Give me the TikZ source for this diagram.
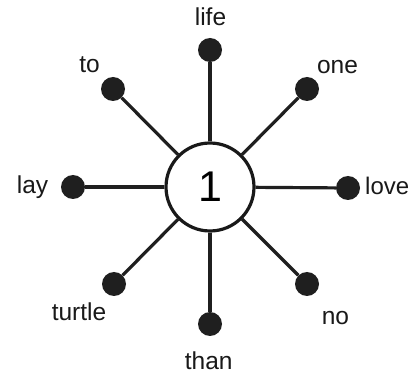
\documentclass[tikz,border=0pt]{standalone}
\usepackage{fontspec}
\setmainfont{Liberation Sans}
\begin{document}
\begin{tikzpicture}[x=1pt,y=-1pt,
  hub/.style={circle,draw=black!90,line width=3.2pt,fill=white,minimum size=88pt,inner sep=0pt,font=\fontsize{43}{43}\selectfont},
  leaf/.style={circle,fill=black!88,minimum size=24pt,inner sep=0pt},
  spoke/.style={line width=3.2pt,draw=black!88},
  lbl/.style={anchor=base,font=\fontsize{24.5}{26}\selectfont,text=black!90,inner sep=0pt}]
\useasboundingbox (0,0) rectangle (410,374);
\fill[white] (0,0) rectangle (410,374);
\node[hub] (c) at (210,187) {1};
\node[leaf] (n) at (210,50) {};
\node[leaf] (ne) at (307,89) {};
\node[leaf] (e) at (348,188) {};
\node[leaf] (se) at (307,284) {};
\node[leaf] (s) at (210,324) {};
\node[leaf] (sw) at (114,284) {};
\node[leaf] (w) at (73,187) {};
\node[leaf] (nw) at (113,89) {};
\foreach \d in {n,ne,e,se,s,sw,w,nw} \draw[spoke] (c) -- (\d);
\node[lbl] (tlife) at (210.5,26) {life};
\node[lbl] (tto) at (89.5,72.5) {to};
\node[lbl] (tone) at (337.5,74) {one};
\node[lbl] (tlay) at (32.5,194) {lay};
\node[lbl,anchor=base west,font=\fontsize{24}{26}\selectfont] (tlove) at (365,195) {love};
\node[lbl] (tturtle) at (79,320) {turtle};
\node[lbl] (tno) at (335.5,324) {no};
\node[lbl] (tthan) at (208.7,369.5) {than};
\end{tikzpicture}
\end{document}
